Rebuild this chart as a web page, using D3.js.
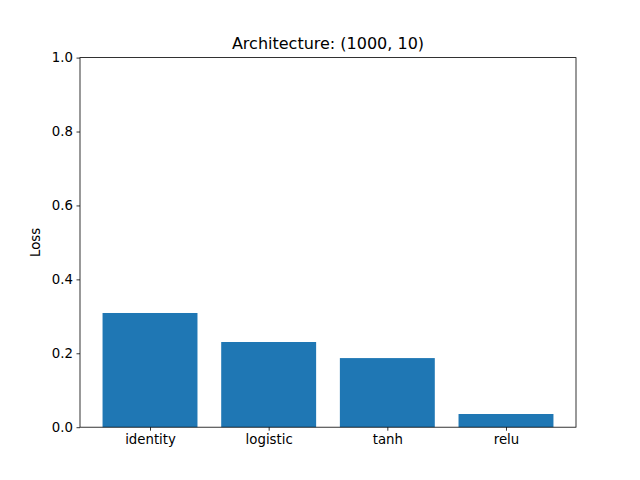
<!DOCTYPE html>
<html lang="en">
<head>
  <meta charset="UTF-8">
  <title>Architecture loss</title>
  <script src="https://d3js.org/d3.v7.min.js"></script>
  <style>
    body { margin:0; background:#fff; }
    svg { display:block; font-family:"DejaVu Sans", sans-serif; }
  </style>
</head>
<body>
  <script>
    // data
    const activations = ["identity", "logistic", "tanh", "relu"];
    const losses = [0.309, 0.2305, 0.187, 0.0357];
    const yTicks = [0, 0.2, 0.4, 0.6, 0.8, 1.0];

    const width = 640, height = 480;
    const margin = {left: 80, right: 64, top: 57.6, bottom: 52.8};

    const svg = d3.select("body").append("svg")
      .attr("width", width)
      .attr("height", height);

    // matplotlib-like x range: bars of width 0.8 with 5% margins
    const x = d3.scaleLinear()
      .domain([-0.59, 3.59])
      .range([margin.left, width - margin.right]);
    const y = d3.scaleLinear()
      .domain([0, 1])
      .range([height - margin.bottom, margin.top]);

    // bars
    svg.selectAll("rect.bar")
      .data(losses)
      .enter().append("rect")
        .attr("class", "bar")
        .attr("x", (d, i) => x(i - 0.4))
        .attr("width", (d, i) => x(i + 0.4) - x(i - 0.4))
        .attr("y", d => y(d))
        .attr("height", d => y(0) - y(d))
        .attr("fill", "#1f77b4");

    // axes
    const xAxis = d3.axisBottom(x)
      .tickValues(d3.range(activations.length))
      .tickFormat(i => activations[i])
      .tickSize(3.5).tickPadding(3.5);
    const yAxis = d3.axisLeft(y)
      .tickValues(yTicks)
      .tickFormat(d3.format(".1f"))
      .tickSize(3.5).tickPadding(3.5);

    const gx = svg.append("g")
      .attr("transform", `translate(0,${height - margin.bottom})`)
      .call(xAxis);
    const gy = svg.append("g")
      .attr("transform", `translate(${margin.left},0)`)
      .call(yAxis);

    [gx, gy].forEach(g => {
      g.select(".domain").remove();
      g.selectAll("text").attr("font-size", 13.3).attr("fill", "#000")
        .attr("font-family", "DejaVu Sans, sans-serif");
      g.selectAll("line").attr("stroke", "#000").attr("stroke-width", 0.8);
    });

    // frame
    svg.append("rect")
      .attr("x", margin.left)
      .attr("y", margin.top)
      .attr("width", width - margin.left - margin.right)
      .attr("height", height - margin.top - margin.bottom)
      .attr("fill", "none")
      .attr("stroke", "#000")
      .attr("stroke-width", 0.8);

    // title
    svg.append("text")
      .attr("x", (margin.left + width - margin.right) / 2)
      .attr("y", margin.top - 9)
      .attr("text-anchor", "middle")
      .attr("font-size", 16)
      .text("Architecture: (1000, 10)");

    // y label
    svg.append("text")
      .attr("transform", `translate(40,${(margin.top + height - margin.bottom) / 2}) rotate(-90)`)
      .attr("text-anchor", "middle")
      .attr("font-size", 13.3)
      .text("Loss");
  </script>
</body>
</html>
